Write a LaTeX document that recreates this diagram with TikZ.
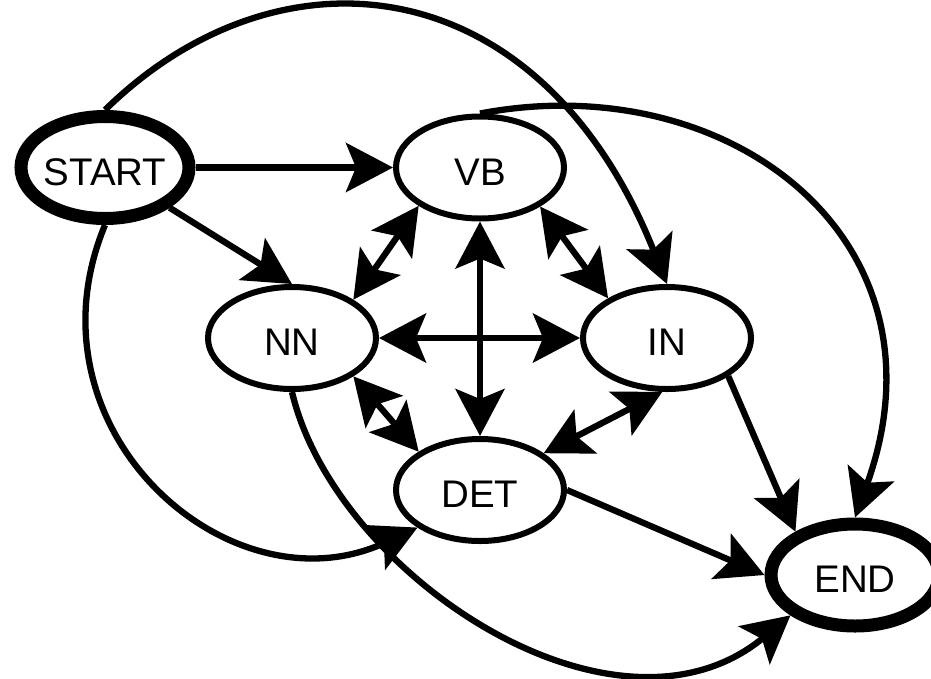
\documentclass[tikz,border=0pt]{standalone}
\usepackage{fontspec}
\setmainfont{Liberation Sans}
\usetikzlibrary{arrows.meta,shapes.geometric}
\begin{document}
\begin{tikzpicture}[x=1pt,y=-1pt,
  st/.style={ellipse,draw,line width=6pt,minimum width=168pt,minimum height=102pt,inner sep=0pt,text height=35pt,text depth=0pt,font=\fontsize{38.5}{40}\selectfont},
  term/.style={st,line width=13pt},
  tipx/.tip={Stealth[length=47pt,width=49pt,inset=10pt]},
  edge/.style={line width=6.3pt,-tipx},
  bi/.style={line width=6.3pt,tipx-tipx}]
\useasboundingbox (0,0) rectangle (931,678);
\node[term] (nstart) at (105,167.5) {\makebox[0pt]{START}};
\node[st] (nvb) at (480,167.5) {\makebox[0pt]{VB}};
\node[st] (nnn) at (292,338) {\makebox[0pt]{NN}};
\node[st] (nin) at (667,338) {\makebox[0pt]{IN}};
\node[st] (ndet) at (480,490) {\makebox[0pt]{DET}};
\node[term] (nend) at (855,575) {\makebox[0pt]{END}};
% straight edges
\draw[edge] (nstart) -- (nvb);
\draw[edge] (nstart) -- (nnn.north);
\draw[edge] (nin.328) -- (nend.144);
\draw[edge] (ndet.east) -- (nend.west);
% bidirectional
\draw[bi] (nnn.32) -- (nvb.212);
\draw[bi] (nvb.327) -- (nin.146);
\draw[bi] (nvb) -- (ndet);
\draw[bi] (nnn) -- (nin);
\draw[bi] (nnn.328) -- (ndet.148);
\draw[bi] (ndet.30) -- (nin.265);
% curves
\draw[edge] (nstart.north) .. controls (278,-60) and (539,-36) .. (nin.north);
\draw[edge] (nstart.south) .. controls (20,430) and (230,615) .. (ndet.211);
\draw[edge] (nvb.north) .. controls (730,66) and (955,240) .. (nend.north);
\draw[edge] (nnn.south) .. controls (335,575) and (615,760) .. (nend.212);
\end{tikzpicture}
\end{document}
